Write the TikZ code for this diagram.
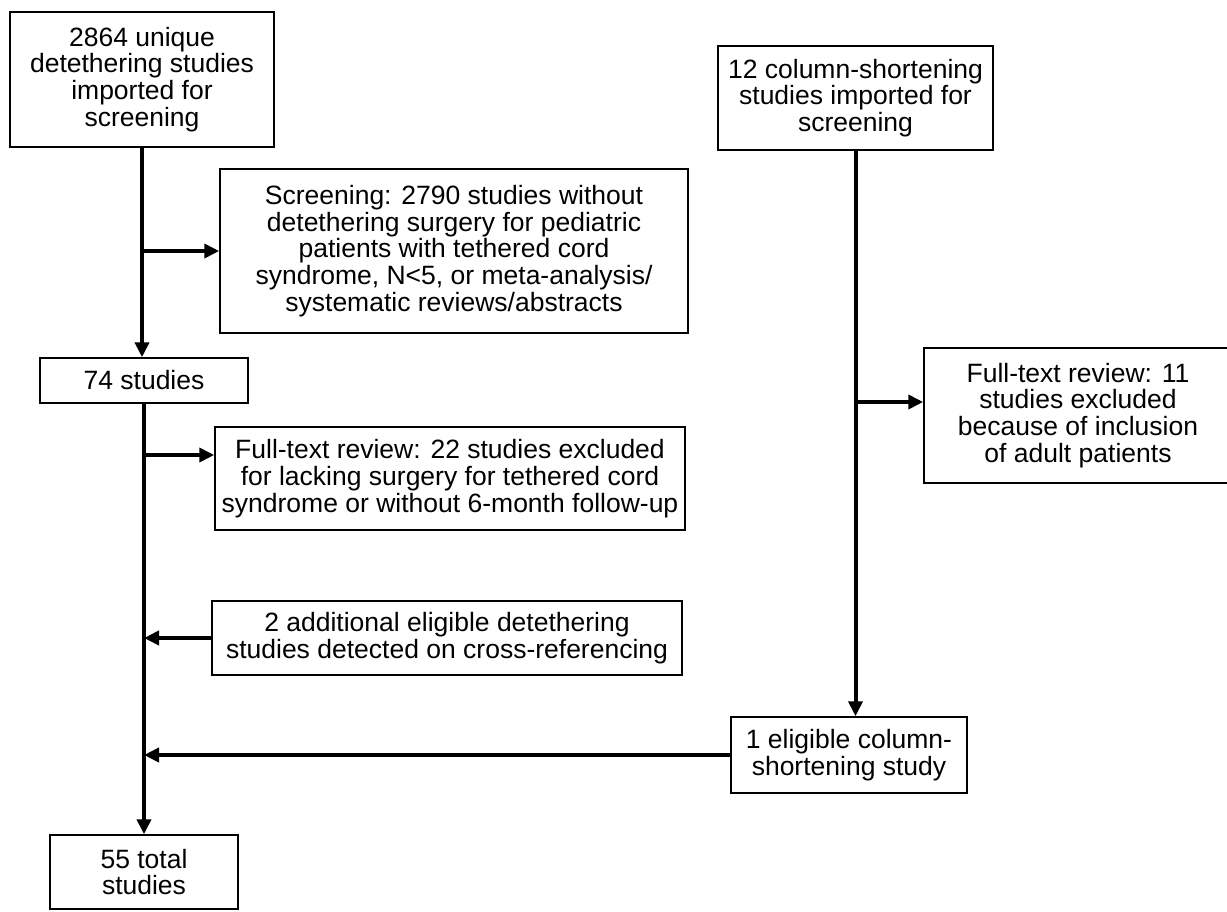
\documentclass[tikz,border=0pt]{standalone}
\usepackage{fontspec}
\setmainfont{Liberation Sans}
\usetikzlibrary{arrows.meta}
\tikzset{
  box/.style={draw=black, line width=1.5pt, inner sep=0pt, align=center,
    font=\fontsize{26.5}{26.8}\selectfont, anchor=center},
  arr/.style={line width=4pt, -{Triangle[length=15pt,width=14pt]}},
  ln/.style={line width=4pt}
}
\begin{document}
\begin{tikzpicture}[x=1pt,y=-1pt]
\useasboundingbox[fill=white] (0,0) rectangle (1227,911);
\node[box, minimum width=264pt, minimum height=135pt] (n1) at (142,79.5)
  {2864 unique\\detethering studies\\imported for\\screening};
\node[box, minimum width=468pt, minimum height=164pt] (n2) at (454,251)
  {Screening: 2790 studies without\\detethering surgery for pediatric\\patients with tethered cord\\syndrome, N<5, or meta-analysis/\\systematic reviews/abstracts};
\node[box, minimum width=275pt, minimum height=104pt] (n3) at (855.5,98)
  {12 column-shortening\\studies imported for\\screening};
\node[box, minimum width=208pt, minimum height=45pt] (n4) at (144,380.5)
  {74 studies};
\node[box, minimum width=470pt, minimum height=103pt] (n5) at (450,478.5)
  {Full-text review: 22 studies excluded\\for lacking surgery for tethered cord\\syndrome or without 6-month follow-up};
\node[box, minimum width=308pt, minimum height=135pt] (n6) at (1078,415.5)
  {Full-text review: 11\\studies excluded\\because of inclusion\\of adult patients};
\node[box, minimum width=470pt, minimum height=74pt] (n7) at (447,638)
  {2 additional eligible detethering\\studies detected on cross-referencing};
\node[box, minimum width=236pt, minimum height=76pt] (n8) at (849,755)
  {1 eligible column-\\shortening study};
\node[box, minimum width=188pt, minimum height=74pt] (n9) at (144,872)
  {55 total\\studies};
% left column
\draw[arr] (n1.south) -- (n1.south |- n4.north);
\coordinate (b1) at (n1.south |- n2.west);
\draw[arr] (b1) -- (n2.west);
\draw[arr] (n4.south) -- (n4.south |- n9.north);
\coordinate (b2) at (144,455);
\draw[arr] (b2) -- (b2 -| n5.west);
\coordinate (b3) at (n4.south |- n7.west);
\draw[arr] (n7.west) -- (b3);
\coordinate (b4) at (n4.south |- n8.west);
\draw[arr] (n8.west) -- (b4);
% right column
\draw[arr] (n3.south) -- (n3.south |- n8.north);
\coordinate (b5) at (855.5,402);
\draw[arr] (b5) -- (b5 -| n6.west);
\end{tikzpicture}
\end{document}
